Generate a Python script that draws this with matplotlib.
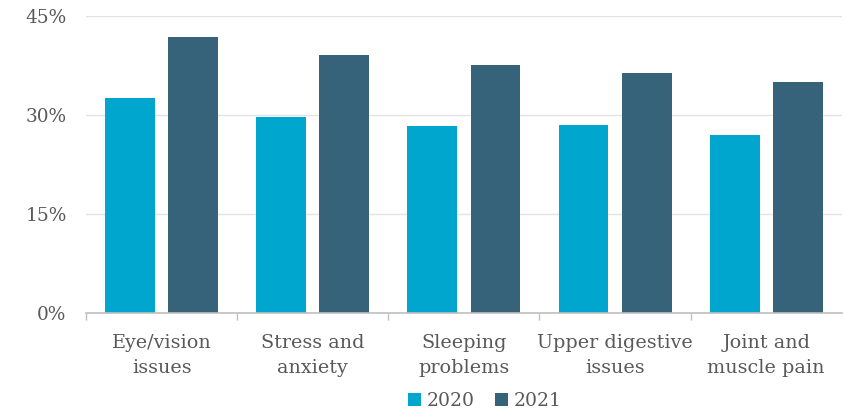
import matplotlib
matplotlib.use("Agg")
import matplotlib.pyplot as plt
import numpy as np

categories = ["Eye/vision\nissues", "Stress and\nanxiety", "Sleeping\nproblems",
              "Upper digestive\nissues", "Joint and\nmuscle pain"]
series_names = ["2020", "2021"]
values_2020 = [32.5, 29.6, 28.3, 28.4, 26.9]
values_2021 = [41.8, 39.0, 37.5, 36.3, 35.0]
y_ticks = [0, 15, 30, 45]
y_tick_labels = ["0%", "15%", "30%", "45%"]

colors = ["#00A6CE", "#36627A"]
text_color = "#595959"

plt.rcParams['font.family'] = ['DejaVu Serif']

fig = plt.figure(figsize=(8.46, 4.11), dpi=100)
ax = fig.add_axes([0.1017, 0.2392, 0.8933, 0.7226])

x = np.arange(len(categories))
w = 0.33
off = 0.209
ax.bar(x - off, values_2020, width=w, color=colors[0], label=series_names[0], zorder=3)
ax.bar(x + off, values_2021, width=w, color=colors[1], label=series_names[1], zorder=3)

ax.set_xlim(-0.5, len(categories) - 0.5)
ax.set_ylim(0, 45)
ax.set_yticks(y_ticks)
ax.set_yticklabels(y_tick_labels, fontsize=13.3, color=text_color)
ax.tick_params(axis='y', length=0, pad=14)
for lbl in ax.get_yticklabels():
    lbl.set_va('center_baseline')
ax.yaxis.grid(True, color="#E3E3E3", linewidth=1, zorder=0)

# category labels at centers, tick marks at boundaries (none at right end)
ax.set_xticks(np.arange(-0.5, len(categories) - 1, 1.0))
ax.set_xticklabels([])
ax.tick_params(axis='x', which='major', length=5, color="#BFBFBF", width=1)
ax.set_xticks(x, minor=True)
ax.set_xticklabels(categories, minor=True, fontsize=13.8, color=text_color, linespacing=1.55)
ax.tick_params(axis='x', which='minor', length=0, pad=15)

for s in ['top', 'right', 'left']:
    ax.spines[s].set_visible(False)
ax.spines['bottom'].set_color("#BFBFBF")
ax.spines['bottom'].set_linewidth(1.2)
ax.spines['bottom'].set_zorder(4)

leg = fig.legend(loc='center', bbox_to_anchor=(0.573, 0.025), ncol=2, frameon=False,
                 fontsize=13.5, handlelength=0.7, handleheight=0.7, handletextpad=0.3,
                 columnspacing=1.1)
for t in leg.get_texts():
    t.set_color(text_color)

fig.savefig("out.png", dpi=100)
